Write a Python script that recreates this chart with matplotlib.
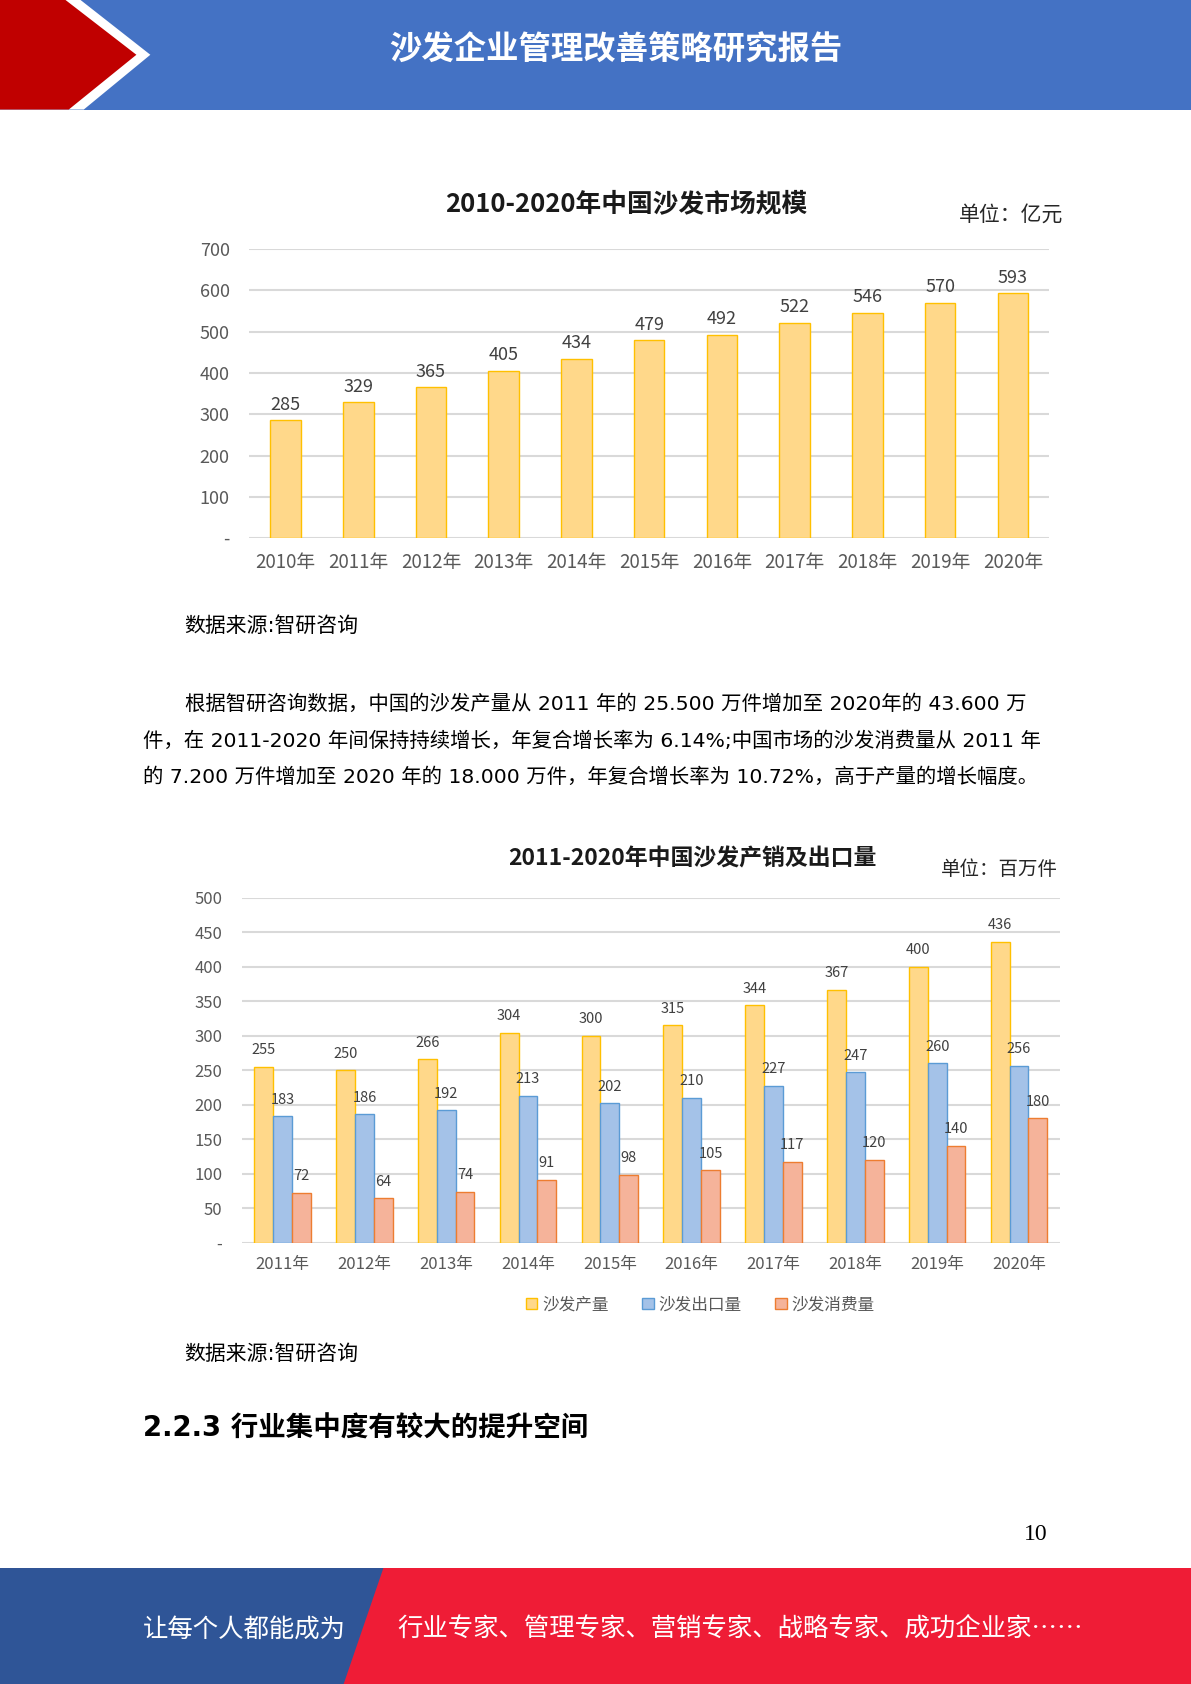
import matplotlib
matplotlib.use('Agg')
import matplotlib.pyplot as plt
from matplotlib.patches import Polygon, Rectangle
import numpy as np

plt.rcParams['font.family'] = ['Noto Sans CJK SC', 'DejaVu Sans']
body_font = ['DejaVu Sans', 'Noto Sans CJK SC']

# 数据
years1 = ['2010年', '2011年', '2012年', '2013年', '2014年', '2015年',
          '2016年', '2017年', '2018年', '2019年', '2020年']
market = [285, 329, 365, 405, 434, 479, 492, 522, 546, 570, 593]

years2 = ['2011年', '2012年', '2013年', '2014年', '2015年',
          '2016年', '2017年', '2018年', '2019年', '2020年']
production = [255, 250, 266, 304, 300, 315, 344, 367, 400, 436]
export = [183, 186, 192, 213, 202, 210, 227, 247, 260, 256]
consumption = [72, 64, 74, 91, 98, 105, 117, 120, 140, 180]
series_names = ['沙发产量', '沙发出口量', '沙发消费量']

header_title = '沙发企业管理改善策略研究报告'
title1 = '2010-2020年中国沙发市场规模'
unit1 = '单位：亿元'
title2 = '2011-2020年中国沙发产销及出口量'
unit2 = '单位：百万件'
source = '数据来源:智研咨询'
para = ['根据智研咨询数据，中国的沙发产量从 2011 年的 25.500 万件增加至 2020年的 43.600 万',
        '件，在 2011-2020 年间保持持续增长，年复合增长率为 6.14%;中国市场的沙发消费量从 2011 年',
        '的 7.200 万件增加至 2020 年的 18.000 万件，年复合增长率为 10.72%，高于产量的增长幅度。']
heading = '2.2.3 行业集中度有较大的提升空间'
footer_left = '让每个人都能成为'
footer_right = '行业专家、管理专家、营销专家、战略专家、成功企业家……'

# 版面坐标（按 1109x1568 的参考尺寸换算）
W0, H0 = 1109.0, 1568.0
def fx(x):
    return x / W0
def fy(y):
    return 1 - y / H0
def pts(xy):
    return [(fx(a), fy(b)) for a, b in xy]

fig = plt.figure(figsize=(11.91, 16.84), dpi=100)
fig.patch.set_facecolor('white')

# 页眉
fig.patches.append(Rectangle((fx(0), fy(102)), 1, 102 / H0, transform=fig.transFigure,
                             facecolor='#4472C4', edgecolor='none'))
fig.patches.append(Polygon(pts([(0, 0), (75, 0), (140, 51), (78, 102), (0, 102)]),
                           closed=True, transform=fig.transFigure, facecolor='white', edgecolor='none'))
fig.patches.append(Polygon(pts([(0, 0), (61, 0), (127, 51), (64, 102), (0, 102)]),
                           closed=True, transform=fig.transFigure, facecolor='#C00000', edgecolor='none'))
fig.text(fx(573), fy(47), header_title, color='white', fontsize=23.3, fontweight='bold',
         ha='center', va='center')

# 页脚
fig.patches.append(Rectangle((0, 0), 1, 108 / H0, transform=fig.transFigure,
                             facecolor='#EF1C36', edgecolor='none'))
fig.patches.append(Polygon(pts([(0, 1460), (357, 1460), (320, 1568), (0, 1568)]),
                           closed=True, transform=fig.transFigure, facecolor='#2F5597', edgecolor='none'))
fig.text(fx(133), fy(1517), footer_left, color='white', fontsize=18.3, ha='left', va='center')
fig.text(fx(370), fy(1517), footer_right, color='white', fontsize=18.3, ha='left', va='center')
fig.text(fx(975), fy(1429), '10', color='black', fontsize=17, ha='right', va='center',
         family='Liberation Serif')

grid_c = '#D9D9D9'
txt_c = '#595959'
yellow_f, yellow_e = '#FFD88A', '#FFC000'
blue_f, blue_e = '#A4C2E8', '#5B9BD5'
red_f, red_e = '#F5B39A', '#ED7D31'

# 图一
ax1 = fig.add_axes([fx(232), fy(501), fx(977) - fx(232), (501 - 232) / H0])
x1 = np.arange(len(years1))
bars = ax1.bar(x1, market, width=0.42, color=yellow_f, edgecolor=yellow_e, linewidth=1, zorder=3)
for b, v in zip(bars, market):
    ax1.text(b.get_x() + b.get_width() / 2, v + 16, str(v), ha='center', va='bottom',
             fontsize=13, color='#404040')
ax1.set_xlim(-0.5, len(years1) - 0.5)
ax1.set_ylim(0, 700)
ax1.set_yticks(range(0, 701, 100))
ax1.set_yticklabels(['-'] + [str(v) for v in range(100, 701, 100)])
ax1.set_xticks(x1)
ax1.set_xticklabels(years1)
ax1.yaxis.grid(True, color=grid_c, linewidth=1.5, zorder=0)
for s in ax1.spines.values():
    s.set_visible(False)
ax1.tick_params(axis='y', length=0, pad=14, labelsize=13, labelcolor=txt_c)
ax1.tick_params(axis='x', length=0, pad=10, labelsize=13.5, labelcolor=txt_c)
fig.text(fx(583), fy(190), title1, fontsize=18.5, fontweight='bold', color='#1a1a1a',
         ha='center', va='center')
fig.text(fx(990), fy(200), unit1, fontsize=15, color='#262626', ha='right', va='center')

fig.text(fx(172), fy(583), source, fontsize=15, ha='left', va='center', family=body_font)
fig.text(fx(172), fy(656), para[0], fontsize=14.7, ha='left', va='center', family=body_font)
fig.text(fx(133), fy(690), para[1], fontsize=14.7, ha='left', va='center', family=body_font)
fig.text(fx(133), fy(724), para[2], fontsize=14.7, ha='left', va='center', family=body_font)

# 图二
ax2 = fig.add_axes([fx(225), fy(1157), fx(987) - fx(225), (1157 - 836) / H0])
x2 = np.arange(len(years2))
w = 0.23
groups = [(production, yellow_f, yellow_e, -w), (export, blue_f, blue_e, 0), (consumption, red_f, red_e, w)]
handles = []
for (vals, fc, ec, off), name in zip(groups, series_names):
    bb = ax2.bar(x2 + off, vals, width=w, color=fc, edgecolor=ec, linewidth=1, zorder=3, label=name)
    handles.append(bb)
    for b, v in zip(bb, vals):
        ax2.text(b.get_x() + b.get_width() / 2, v + 14, str(v), ha='center', va='bottom',
                 fontsize=10.5, color='#404040', zorder=4)
ax2.set_xlim(-0.5, len(years2) - 0.5)
ax2.set_ylim(0, 500)
ax2.set_yticks(range(0, 501, 50))
ax2.set_yticklabels(['-'] + [str(v) for v in range(50, 501, 50)])
ax2.set_xticks(x2)
ax2.set_xticklabels(years2)
ax2.yaxis.grid(True, color=grid_c, linewidth=1.5, zorder=0)
for s in ax2.spines.values():
    s.set_visible(False)
ax2.tick_params(axis='y', length=0, pad=14, labelsize=12, labelcolor=txt_c)
ax2.tick_params(axis='x', length=0, pad=10, labelsize=12, labelcolor=txt_c)
fig.text(fx(645), fy(800), title2, fontsize=16.5, fontweight='bold', color='#1a1a1a',
         ha='center', va='center')
fig.text(fx(985), fy(810), unit2, fontsize=14, color='#262626', ha='right', va='center')
fig.legend(handles=handles, labels=series_names, loc='center', bbox_to_anchor=(fx(652), fy(1215)),
           ncol=3, frameon=False, fontsize=12, handlelength=0.7, handleheight=0.7,
           handletextpad=0.3, columnspacing=2.0, labelcolor=txt_c)

fig.text(fx(172), fy(1261), source, fontsize=15, ha='left', va='center', family=body_font)
fig.text(fx(133), fy(1330), heading, fontsize=19.8, fontweight='bold', ha='left', va='center',
         family=body_font)

fig.savefig('out.png', dpi=100)
